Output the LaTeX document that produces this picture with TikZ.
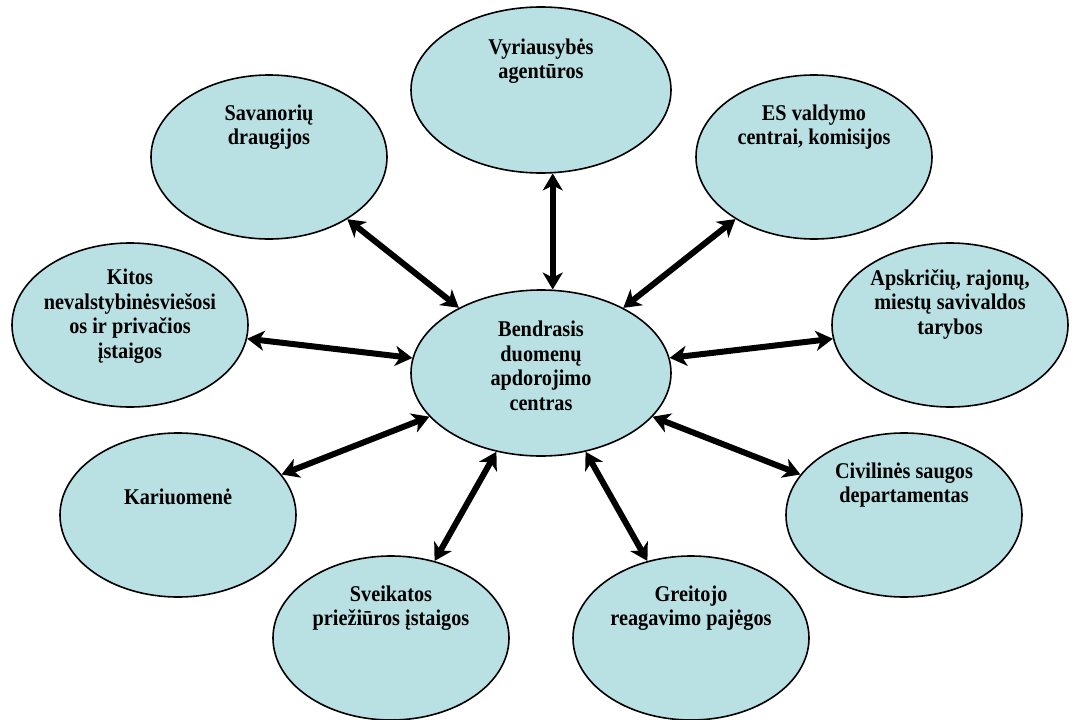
\documentclass[tikz,border=0pt]{standalone}
\usepackage{fontspec}
\setmainfont{Liberation Serif}[FakeStretch=0.9]
\usetikzlibrary{shapes.geometric,arrows.meta}
\definecolor{bubblefill}{RGB}{185,224,227}
\tikzset{
  bubble/.style={ellipse,draw=black,line width=1.6pt,fill=bubblefill,
    minimum width=236pt,minimum height=164pt,inner sep=0pt},
  bigbubble/.style={bubble,minimum width=260pt,minimum height=166pt},
  txt/.style={align=center,inner sep=0pt,font=\fontsize{22.5}{24.5}\selectfont\bfseries},
  link/.style={line width=6pt,
    {Stealth[length=17pt,width=20pt,inset=5pt]}-{Stealth[length=17pt,width=20pt,inset=5pt]}},
}
\begin{document}
\begin{tikzpicture}[x=1pt,y=-1pt]
\useasboundingbox (0,0) rectangle (1090,720);
% the ellipses
\node[bigbubble] (centras) at (541,373) {};
\node[bigbubble] (vyr) at (541,90) {};
\node[bubble] (sav) at (269,157) {};
\node[bubble] (es) at (814,157) {};
\node[bubble] (kitos) at (130,325) {};
\node[bubble] (apskr) at (950,325) {};
\node[bubble] (kar) at (178,515) {};
\node[bubble] (civ) at (904,515) {};
\node[bubble] (sveik) at (391,638) {};
\node[bubble] (greit) at (691,638) {};
% their texts
\node[txt] (centras-t) at ([yshift=7pt]centras.center) {Bendrasis\\duomenų\\apdorojimo\\centras};
\node[txt] (vyr-t) at ([yshift=29pt]vyr.center) {Vyriausybės\\agentūros};
\node[txt] (sav-t) at ([yshift=30pt]sav.center) {Savanorių\\draugijos};
\node[txt] (es-t) at ([yshift=30pt]es.center) {ES valdymo\\centrai, komisijos};
\node[txt] (kitos-t) at ([yshift=9pt]kitos.center) {Kitos\\nevalstybinėsviešosi\\os ir privačios\\įstaigos};
\node[txt] (apskr-t) at ([yshift=21pt]apskr.center) {Apskričių, rajonų,\\miestų savivaldos\\tarybos};
\node[txt] (kar-t) at ([yshift=18pt]kar.center) {Kariuomenė};
\node[txt] (civ-t) at ([yshift=30pt]civ.center) {Civilinės saugos\\departamentas};
\node[txt] (sveik-t) at ([yshift=30pt]sveik.center) {Sveikatos\\priežiūros įstaigos};
\node[txt] (greit-t) at ([yshift=30pt]greit.center) {Greitojo\\reagavimo pajėgos};
% connectors
\draw[link] (vyr.-82) -- (centras.82);
\foreach \n in {sav,es,kitos,apskr,kar,civ,sveik,greit} {
\draw[link] (\n) -- (centras);
}
\end{tikzpicture}
\end{document}
